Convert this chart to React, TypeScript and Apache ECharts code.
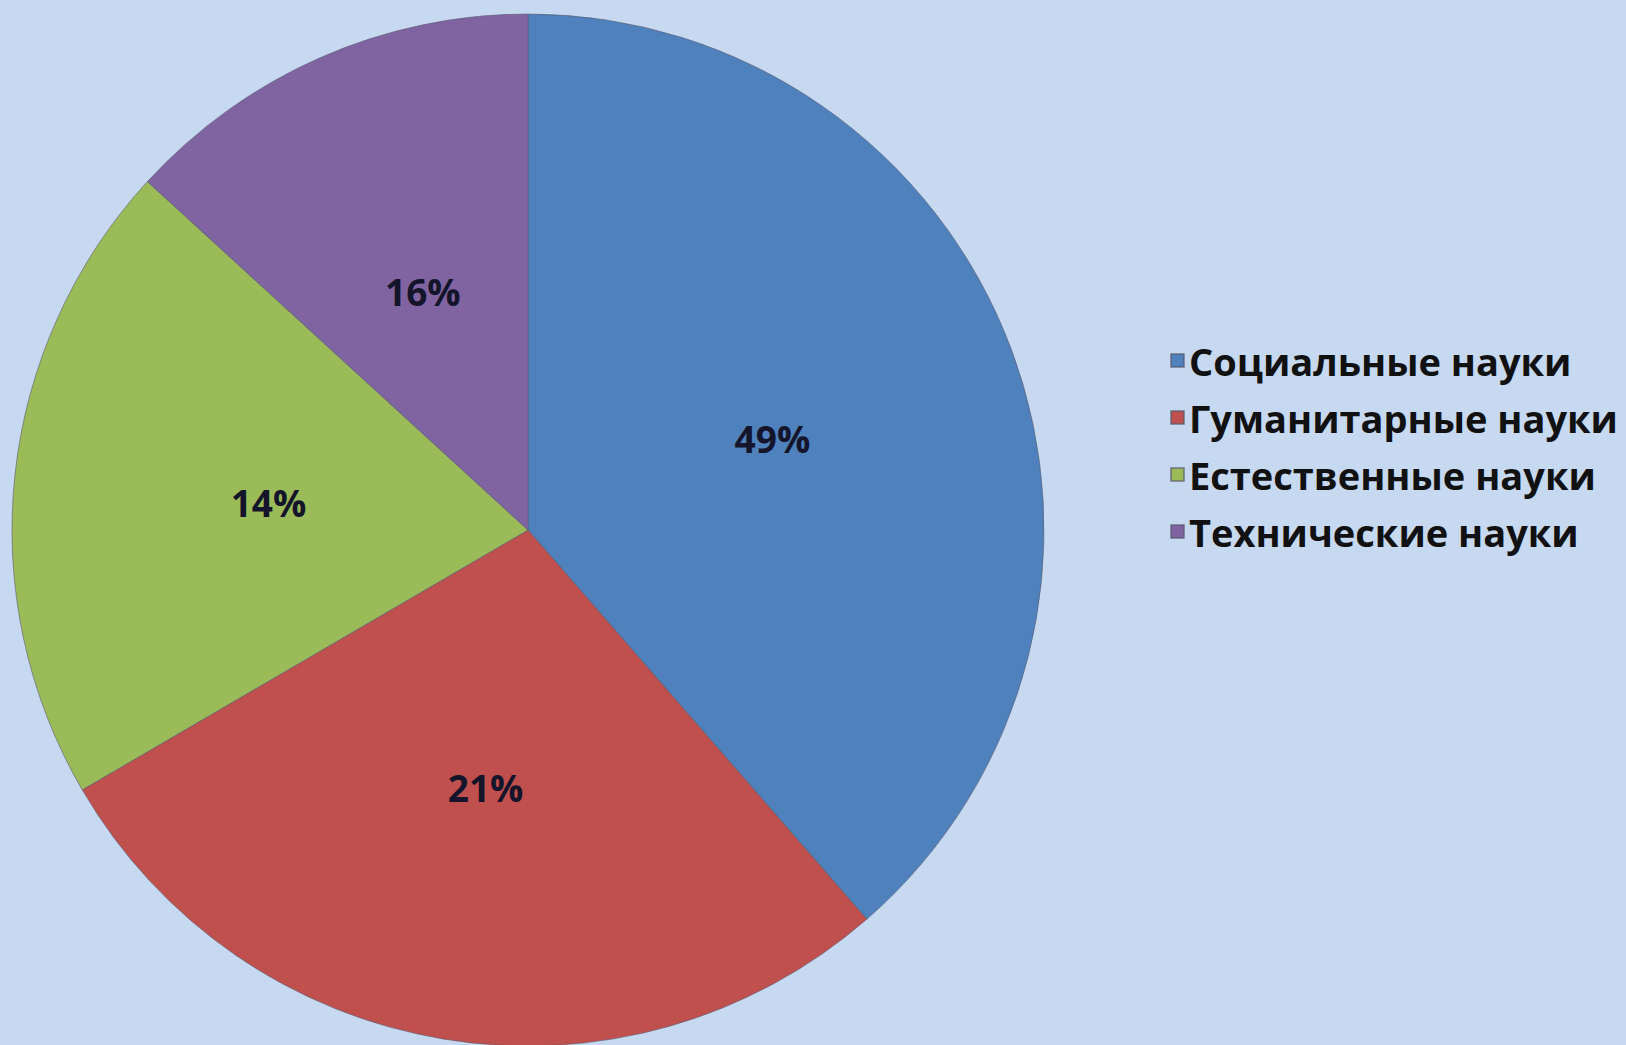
import React, { useEffect, useRef } from "react";
import * as echarts from "echarts";

const categories = [
  "Социальные науки",
  "Гуманитарные науки",
  "Естественные науки",
  "Технические науки",
];
// slice sizes as drawn in the picture
const sliceValues = [38.6, 28.0, 20.2, 13.2];
// labels as printed on the slices
const sliceLabels = ["49%", "21%", "14%", "16%"];
const colors = ["#4f81bd", "#c0504d", "#9bbb59", "#8064a2"];

const FONT = "'Open Sans', 'Noto Sans', sans-serif";

export default function App() {
  const ref = useRef<HTMLDivElement>(null);
  useEffect(() => {
    if (!ref.current) return;
    const chart = echarts.init(ref.current, undefined, { renderer: "svg" });
    chart.setOption({
      animation: false,
      backgroundColor: "#c6d9f1",
      color: colors,
      legend: {
        orient: "vertical",
        left: 1165,
        top: 335,
        icon: "rect",
        itemWidth: 13,
        itemHeight: 13,
        itemGap: 16,
        data: categories,
        textStyle: {
          fontFamily: FONT,
          fontWeight: "bold",
          fontSize: 38,
          lineHeight: 41,
          color: "#111",
          padding: [0, 0, 0, 0],
        },
      },
      series: [
        {
          type: "pie",
          center: [528, 530],
          radius: 516,
          startAngle: 90,
          clockwise: true,
          data: categories.map((name, i) => ({ name, value: sliceValues[i] })),
          itemStyle: { borderColor: "rgba(90,90,110,0.6)", borderWidth: 1 },
          label: {
            position: "inside",
            formatter: (p: any) => sliceLabels[p.dataIndex],
            fontFamily: FONT,
            fontWeight: "bold",
            fontSize: 37,
            color: "#14142a",
          },
          labelLine: { show: false },
          emphasis: { disabled: true },
        },
      ],
    });
    return () => chart.dispose();
  }, []);
  return (
    <div
      ref={ref}
      style={{ position: "fixed", left: 0, top: 0, width: 1626, height: 1045 }}
    />
  );
}
